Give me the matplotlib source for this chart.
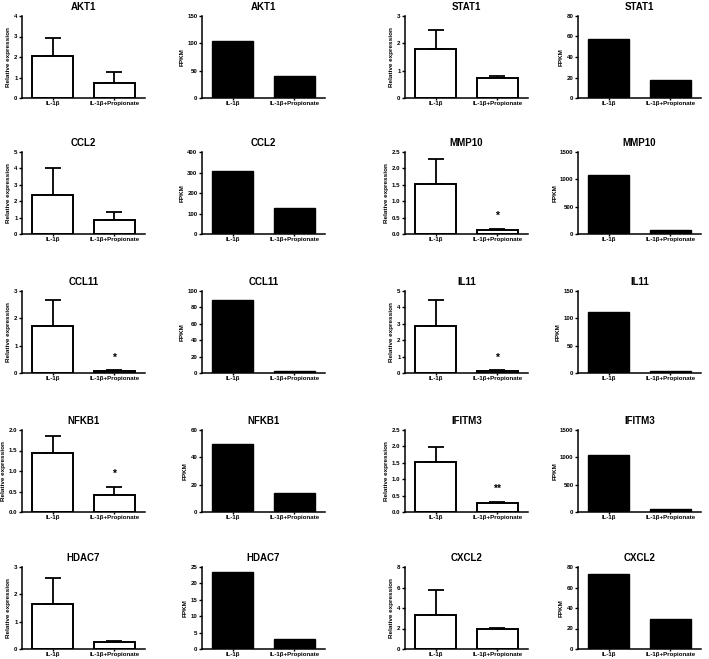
import matplotlib
matplotlib.use("Agg")
import matplotlib.pyplot as plt

plt.rcParams['font.family'] = ['Liberation Sans', 'DejaVu Sans']
plt.rcParams['font.weight'] = 'bold'

# groups on the x axis
groups = ['IL-1β', 'IL-1β+Propionate']

# genes, in reading order (two genes per row, each with qPCR + RNA-seq panel)
genes = ['AKT1', 'STAT1', 'CCL2', 'MMP10', 'CCL11', 'IL11',
         'NFKB1', 'IFITM3', 'HDAC7', 'CXCL2']

# qPCR relative expression: mean and upper end of error bar
rel_mean = {
    'AKT1': [2.05, 0.75], 'STAT1': [1.80, 0.75], 'CCL2': [2.40, 0.83],
    'MMP10': [1.52, 0.13], 'CCL11': [1.73, 0.07], 'IL11': [2.85, 0.15],
    'NFKB1': [1.45, 0.42], 'IFITM3': [1.53, 0.28], 'HDAC7': [1.65, 0.24],
    'CXCL2': [3.30, 1.93],
}
rel_top = {
    'AKT1': [2.95, 1.25], 'STAT1': [2.48, 0.80], 'CCL2': [4.00, 1.37],
    'MMP10': [2.28, 0.16], 'CCL11': [2.68, 0.10], 'IL11': [4.45, 0.18],
    'NFKB1': [1.85, 0.62], 'IFITM3': [1.98, 0.32], 'HDAC7': [2.60, 0.30],
    'CXCL2': [5.75, 2.07],
}
rel_ymax = {'AKT1': 4, 'STAT1': 3, 'CCL2': 5, 'MMP10': 2.5, 'CCL11': 3,
            'IL11': 5, 'NFKB1': 2.0, 'IFITM3': 2.5, 'HDAC7': 3, 'CXCL2': 8}
rel_step = {'AKT1': 1, 'STAT1': 1, 'CCL2': 1, 'MMP10': 0.5, 'CCL11': 1,
            'IL11': 1, 'NFKB1': 0.5, 'IFITM3': 0.5, 'HDAC7': 1, 'CXCL2': 2}
stars = {'MMP10': '*', 'CCL11': '*', 'IL11': '*', 'NFKB1': '*', 'IFITM3': '**'}

# RNA-seq FPKM
fpkm = {
    'AKT1': [105, 40], 'STAT1': [58, 18], 'CCL2': [305, 125],
    'MMP10': [1080, 80], 'CCL11': [89, 3], 'IL11': [112, 4],
    'NFKB1': [50, 14], 'IFITM3': [1050, 50], 'HDAC7': [23.6, 3],
    'CXCL2': [73, 29],
}
fpkm_ymax = {'AKT1': 150, 'STAT1': 80, 'CCL2': 400, 'MMP10': 1500,
             'CCL11': 100, 'IL11': 150, 'NFKB1': 60, 'IFITM3': 1500,
             'HDAC7': 25, 'CXCL2': 80}
fpkm_step = {'AKT1': 50, 'STAT1': 20, 'CCL2': 100, 'MMP10': 500,
             'CCL11': 20, 'IL11': 50, 'NFKB1': 20, 'IFITM3': 500,
             'HDAC7': 5, 'CXCL2': 20}

W, H = 709, 659
fig = plt.figure(figsize=(W / 100, H / 100), dpi=100)

col_left = [22, 202, 405, 578]
row_bottom = [98, 234, 373, 512, 649]
ax_w, ax_h = 123, 82


def style(ax, ymax, step, ylabel, title):
    ax.set_xlim(-0.5, 1.5)
    ax.set_ylim(0, ymax)
    n = int(round(ymax / step))
    ticks = [i * step for i in range(n + 1)]
    ax.set_yticks(ticks)
    if step < 1:
        ax.set_yticklabels([f'{t:.1f}' for t in ticks])
    else:
        ax.set_yticklabels([f'{t:g}' for t in ticks])
    ax.set_xticks([0, 1])
    ax.set_xticklabels(groups)
    for s in ['top', 'right']:
        ax.spines[s].set_visible(False)
    for s in ['left', 'bottom']:
        ax.spines[s].set_linewidth(1.1)
    ax.tick_params(axis='both', labelsize=4.4, length=2, width=1, pad=1.2)
    ax.tick_params(axis='x', length=1.5, pad=1.0)
    ax.set_ylabel(ylabel, fontsize=4.6, fontweight='bold', labelpad=2)
    ax.set_title(title, fontsize=7, fontweight='bold', pad=4)
    for lab in ax.get_xticklabels() + ax.get_yticklabels():
        lab.set_fontweight('bold')


for i, g in enumerate(genes):
    r = i // 2
    c0 = (i % 2) * 2
    bottom = 1 - row_bottom[r] / H

    # qPCR panel
    ax = fig.add_axes([col_left[c0] / W, bottom, ax_w / W, ax_h / H])
    mean = rel_mean[g]
    err = [t - m for t, m in zip(rel_top[g], mean)]
    ax.bar([0, 1], mean, width=0.67, color='white', edgecolor='black',
           linewidth=1.4, zorder=2)
    ax.errorbar([0, 1], mean, yerr=[[0, 0], err], fmt='none', ecolor='black',
                elinewidth=1.3, capsize=5.5, capthick=1.3, zorder=1)
    style(ax, rel_ymax[g], rel_step[g], 'Relative expression', g)
    if g in stars:
        ax.annotate(stars[g], xy=(1, rel_top[g][1]), xytext=(0, 9),
                    textcoords='offset points', ha='center', va='center',
                    fontsize=7.5, fontweight='bold')

    # FPKM panel
    ax = fig.add_axes([col_left[c0 + 1] / W, bottom, ax_w / W, ax_h / H])
    ax.bar([0, 1], fpkm[g], width=0.67, color='black', edgecolor='black',
           linewidth=1.0)
    style(ax, fpkm_ymax[g], fpkm_step[g], 'FPKM', g)

fig.savefig('out.png', dpi=100)
